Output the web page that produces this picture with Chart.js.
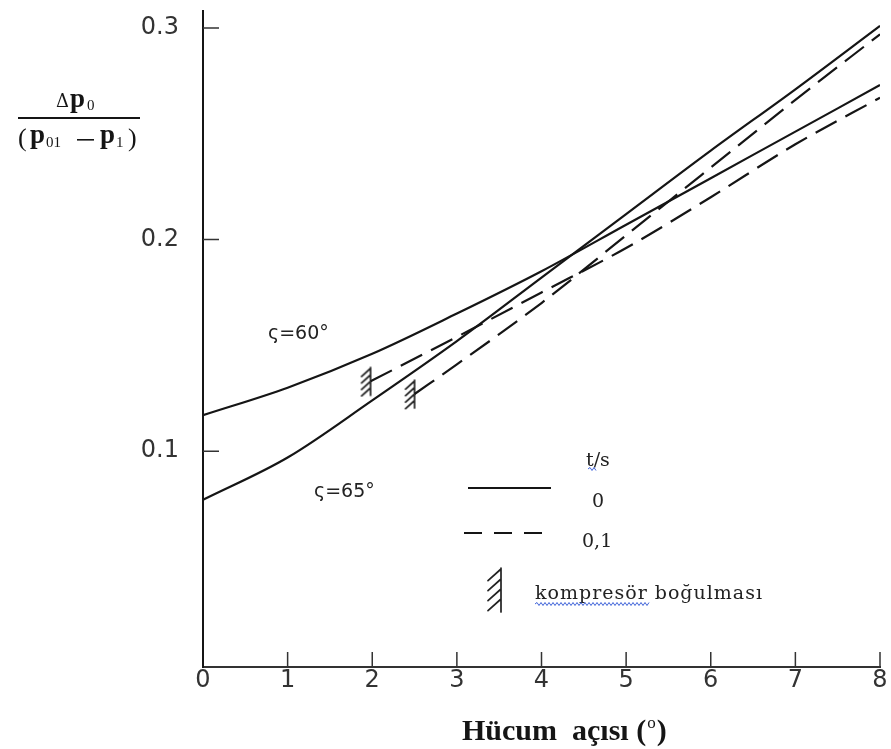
<!DOCTYPE html>
<html>
<head>
<meta charset="utf-8">
<script src="https://cdn.jsdelivr.net/npm/chart.js@4.4.1/dist/chart.umd.min.js"></script>
<style>
  html, body { margin: 0; padding: 0; background: #fff; }
  canvas { display: block; }
</style>
</head>
<body>
<canvas id="myChart" width="891" height="749"></canvas>
<script>
// attack angle (deg) vs loss
const xSolid = [0, 1, 2, 3, 4, 5, 6, 7, 8];
const solid60 = [0.117, 0.130, 0.146, 0.165, 0.185, 0.207, 0.229, 0.251, 0.273];
const solid65 = [0.077, 0.097, 0.124, 0.152, 0.182, 0.212, 0.242, 0.271, 0.301];

// t/s = 0,1 curves start at the compressor choke point
const xDash60 = [1.98, 3, 4, 5, 6, 7, 8];
const dash60 = [0.133, 0.154, 0.175, 0.196, 0.220, 0.245, 0.267];
const xDash65 = [2.5, 3, 4, 5, 6, 7, 8];
const dash65 = [0.127, 0.141, 0.170, 0.202, 0.234, 0.266, 0.297];

const chokeX = [1.98, 2.5];
const chokeY = [0.133, 0.127];

const xTicks = [0, 1, 2, 3, 4, 5, 6, 7, 8];
const yTicks = [0.1, 0.2, 0.3];

const ink = '#151515';

function pts(xs, ys) {
    return xs.map((v, i) => ({x: v, y: ys[i]}));
}

function makeHatch(h, w, step) {
    const c = document.createElement('canvas');
    c.width = 2 * w + 4;
    c.height = h + 4;
    const g = c.getContext('2d');
    const vx = w + 2;
    g.strokeStyle = '#222';
    g.lineWidth = 1.7;
    g.lineCap = 'round';
    g.beginPath();
    g.moveTo(vx, 2);
    g.lineTo(vx, h + 2);
    for (let yy = 3; yy + step <= h + 2; yy += step) {
        g.moveTo(vx - w, yy + w * 0.9);
        g.lineTo(vx, yy);
    }
    g.stroke();
    return c;
}
const hatchSmall = makeHatch(28, 9, 6.5);
const hatchBig = makeHatch(44, 13, 10);

function squiggle(ctx, x0, x1, yy) {
    ctx.save();
    ctx.strokeStyle = '#3f63d8';
    ctx.lineWidth = 1;
    ctx.beginPath();
    ctx.moveTo(x0, yy);
    let up = true;
    for (let xx = x0 + 2; xx <= x1; xx += 2) {
        ctx.lineTo(xx, yy + (up ? -1.5 : 1.5));
        up = !up;
    }
    ctx.stroke();
    ctx.restore();
}

const decor = {
    id: 'decor',
    afterDraw(chart) {
        const {ctx, scales: {x, y}, chartArea: a} = chart;
        ctx.save();

        // tick marks point inward
        ctx.strokeStyle = '#333';
        ctx.lineWidth = 1.5;
        ctx.beginPath();
        yTicks.forEach(v => {
            const py = y.getPixelForValue(v);
            ctx.moveTo(a.left, py);
            ctx.lineTo(a.left + 16, py);
        });
        xTicks.slice(1).forEach(v => {
            const px = x.getPixelForValue(v);
            ctx.moveTo(px, a.bottom);
            ctx.lineTo(px, a.bottom - 15);
        });
        ctx.stroke();

        ctx.fillStyle = ink;
        ctx.textBaseline = 'alphabetic';
        ctx.textAlign = 'left';

        // y title as a fraction
        ctx.font = '18px "DejaVu Serif"';
        ctx.fillText('\u0394', 56, 107);
        ctx.font = 'bold 27px "Liberation Serif"';
        ctx.fillText('p', 70, 107);
        ctx.font = '15px "Liberation Serif"';
        ctx.fillText('0', 87, 110);
        ctx.fillRect(18, 117, 122, 2);
        ctx.font = '26px "Liberation Serif"';
        ctx.fillText('(', 18, 146);
        ctx.font = 'bold 27px "Liberation Serif"';
        ctx.fillText('p', 30, 143);
        ctx.font = '15px "Liberation Serif"';
        ctx.fillText('01', 46, 147);
        ctx.fillRect(77, 139, 17, 1.6);
        ctx.font = 'bold 27px "Liberation Serif"';
        ctx.fillText('p', 100, 143);
        ctx.font = '15px "Liberation Serif"';
        ctx.fillText('1', 116, 147);
        ctx.font = '26px "Liberation Serif"';
        ctx.fillText(')', 128, 146);

        // x title with superscript degree
        ctx.font = 'bold 30px "Liberation Serif"';
        const t1 = 'H\u00fccum  a\u00e7\u0131s\u0131 (';
        let tx = 462;
        ctx.fillText(t1, tx, 740);
        tx += ctx.measureText(t1).width;
        ctx.font = '17px "Liberation Serif"';
        ctx.fillText('o', tx + 1, 728);
        tx += ctx.measureText('o').width + 2;
        ctx.font = 'bold 30px "Liberation Serif"';
        ctx.fillText(')', tx, 740);

        // curve labels
        ctx.font = '19px "DejaVu Sans"';
        ctx.fillStyle = '#222';
        ctx.fillText('\u03c2=60\u00b0', 268, 339);
        ctx.fillText('\u03c2=65\u00b0', 314, 497);

        // legend
        ctx.font = '19px "DejaVu Serif"';
        ctx.fillText('t/s', 586, 466);
        squiggle(ctx, 588, 597, 469);
        ctx.fillText('0', 592, 507);
        ctx.fillText('0,1', 582, 547);
        ctx.strokeStyle = ink;
        ctx.lineWidth = 2.2;
        ctx.beginPath();
        ctx.moveTo(468, 488);
        ctx.lineTo(551, 488);
        ctx.stroke();
        ctx.setLineDash([18, 12]);
        ctx.beginPath();
        ctx.moveTo(464, 533);
        ctx.lineTo(551, 533);
        ctx.stroke();
        ctx.setLineDash([]);
        ctx.drawImage(hatchBig, 486, 566);
        ctx.letterSpacing = '1px';
        ctx.fillText('kompres\u00f6r bo\u011fulmas\u0131', 535, 599);
        ctx.letterSpacing = '0px';
        squiggle(ctx, 535, 650, 604);

        ctx.restore();
    }
};

const lineBase = {
    borderColor: ink,
    borderWidth: 2.2,
    pointRadius: 0,
    fill: false,
    cubicInterpolationMode: 'monotone'
};

const data = {
    datasets: [
        Object.assign({label: '60 t/s=0', data: pts(xSolid, solid60)}, lineBase),
        Object.assign({label: '65 t/s=0', data: pts(xSolid, solid65)}, lineBase),
        Object.assign({label: '60 t/s=0,1', data: pts(xDash60, dash60), borderDash: [24, 10]}, lineBase),
        Object.assign({label: '65 t/s=0,1', data: pts(xDash65, dash65), borderDash: [24, 10]}, lineBase),
        {
            label: 'choke',
            data: pts(chokeX, chokeY),
            showLine: false,
            pointStyle: hatchSmall,
            pointRadius: 10
        }
    ]
};

const tickFont = {family: '"DejaVu Sans"', size: 24};

const config = {
    type: 'line',
    data: data,
    plugins: [decor],
    options: {
        responsive: false,
        animation: false,
        layout: {padding: {left: 0, top: 8, right: 11, bottom: 0}},
        plugins: {
            legend: {display: false},
            tooltip: {enabled: false}
        },
        scales: {
            x: {
                type: 'linear',
                min: 0,
                max: 8,
                grid: {display: false},
                border: {display: true, color: '#333', width: 2},
                afterBuildTicks: (s) => { s.ticks = xTicks.map(v => ({value: v})); },
                afterFit: (s) => { s.height = 82; s.paddingLeft = 0; s.paddingRight = 0; },
                ticks: {color: '#333', font: tickFont, padding: -9, maxRotation: 0}
            },
            y: {
                min: -0.002,
                max: 0.308,
                grid: {display: false},
                border: {display: true, color: ink, width: 2},
                afterBuildTicks: (s) => { s.ticks = yTicks.map(v => ({value: v})); },
                afterFit: (s) => { s.width = 203; s.paddingTop = 0; s.paddingBottom = 0; },
                ticks: {color: '#333', font: tickFont, padding: 16, callback: (v) => v.toFixed(1)}
            }
        }
    }
};

const ctx = document.getElementById('myChart').getContext('2d');
const myChart = new Chart(ctx, config);
</script>
</body>
</html>
